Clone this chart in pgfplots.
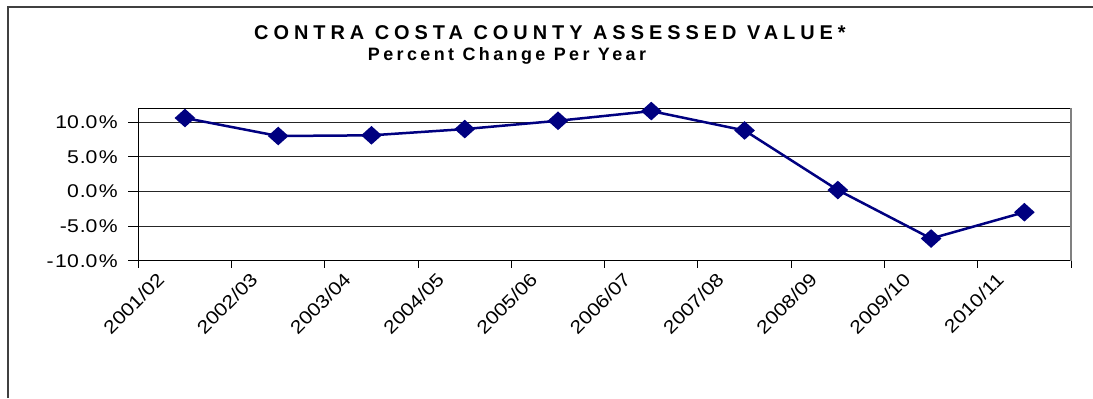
\documentclass[border=0pt]{standalone}
\usepackage{pgfplots}
\pgfplotsset{compat=1.18}
\usepackage{fontspec}
\setmainfont{Liberation Sans}
\newfontfamily\titlefont{Liberation Sans}[LetterSpace=25]
\newfontfamily\subtitlefont{Liberation Sans}[LetterSpace=19]
\newfontfamily\tickfont{Liberation Sans}[FakeStretch=1.15]
\definecolor{seriesnavy}{RGB}{0,0,128}

\pgfplotstableread{
x    pct
0.5  10.6
1.5  8.0
2.5  8.1
3.5  9.0
4.5  10.2
5.5  11.6
6.5  8.8
7.5  0.2
8.5  -6.8
9.5  -3.0
}\assessed

\begin{document}
\begin{tikzpicture}[x=1bp,y=1bp]
% page area
\useasboundingbox (0,0) rectangle (1093,398);
% chart area border (left and top edges)
\draw[black!75, line width=1.5bp] (8,0) -- (8,391) -- (1093,391);
% titles
\node[font=\titlefont\bfseries\fontsize{20}{24}\selectfont, anchor=base, inner sep=0pt]
  at (550,359) {CONTRA COSTA COUNTY ASSESSED VALUE*};
\node[font=\subtitlefont\bfseries\fontsize{18}{22}\selectfont, anchor=base, inner sep=0pt]
  at (507,338) {Percent Change Per Year};

\begin{axis}[
  at={(138.3bp,137.3bp)}, anchor=south west,
  width=932.7bp, height=152.4bp, scale only axis,
  xmin=0, xmax=10, ymin=-10, ymax=12,
  clip=false,
  axis line style={black, line width=0.9bp},
  tick align=outside,
  xtick pos=lower, ytick pos=left,
  xtick={0,...,10},
  xticklabels={2001/02,2002/03,2003/04,2004/05,2005/06,2006/07,2007/08,2008/09,2009/10,2010/11,{}},
  ytick={-10,-5,0,5,10},
  yticklabels={{-\hspace{1.5bp}10\hspace{1bp}.0\hspace{1.5bp}\%},
               {-5\hspace{1bp}.0\hspace{1.5bp}\%},
               {0\hspace{1bp}.0\hspace{1.5bp}\%},
               {5\hspace{1bp}.0\hspace{1.5bp}\%},
               {10\hspace{1bp}.0\hspace{1.5bp}\%}},
  xtick style={black, line width=0.9bp, /pgfplots/major tick length=7bp},
  ytick style={black, line width=0.9bp, /pgfplots/major tick length=10bp},
  ymajorgrids,
  grid style={black!85, line width=0.8bp},
  ticklabel style={font=\tickfont\fontsize{18.5}{20}\selectfont},
  yticklabel style={anchor=east, inner sep=0pt, xshift=-16bp},
  xticklabel style={rotate=45, anchor=north east, inner sep=0pt, xshift=8bp, yshift=-17bp},
]
\addplot[seriesnavy, line width=2.5bp, mark=square*,
  mark size=6bp, mark options={solid, fill=seriesnavy, yscale=0.9, rotate=45}]
  table[x=x, y=pct] {\assessed};
\draw[gray, line width=1.5bp] (rel axis cs:1,0) -- (rel axis cs:1,1);
\end{axis}
\end{tikzpicture}
\end{document}
